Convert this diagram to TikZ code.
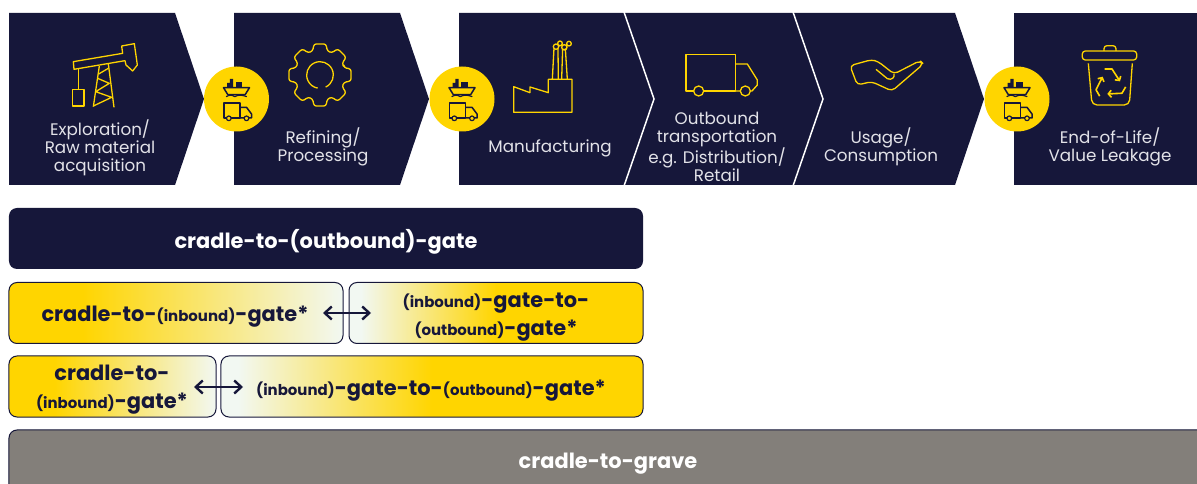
\documentclass[tikz,border=0pt]{standalone}
\usepackage{fontspec}
\setmainfont{Poppins}
\usetikzlibrary{arrows.meta}
\definecolor{navy}{HTML}{16173A}
\definecolor{gold}{HTML}{FFD500}
\definecolor{paper}{HTML}{F2F8F2}
\definecolor{stone}{HTML}{837F7A}
\definecolor{pale}{HTML}{E2E2E8}
\pgfdeclarehorizontalshading{goldfade}{100bp}{color(0bp)=(gold); color(36bp)=(gold); color(75bp)=(paper); color(100bp)=(paper)}
\pgfdeclarehorizontalshading{goldfadeB}{100bp}{color(0bp)=(gold); color(50bp)=(gold); color(73bp)=(paper); color(100bp)=(paper)}
\newcommand{\inb}[1]{{\fontsize{15}{15}\selectfont #1}}
\tikzset{shiptruck/.pic={
  \begin{scope}[scale=1/3,navy,line width=1.2bp,line join=round]
    \draw[line width=1.5bp] (-39,-34) -- (39,-34) -- (26,-13) -- (-26,-13) -- cycle;
    \fill (-28,-34) -- (-28,-48) -- (-20,-48) -- (-20,-60) -- (-10,-60) -- (-10,-34) -- cycle;
    \fill (-2,-52) rectangle (17,-36);
    \draw (-31,-7) .. controls (-20,-13) and (-15,-13) .. (-5,-7) .. controls (5,-13) and (15,-13) .. (31,-7);
    \draw[line width=1.5bp] (-37,12) -- (10,12) -- (10,57) -- (-37,57) -- cycle;
    \draw[line width=1.5bp] (10,25) -- (30,25) -- (45,45) -- (45,57) -- (10,57);
    \draw[fill=gold] (-23,58) circle (7);
    \draw[fill=gold] (30,58) circle (7);
  \end{scope}}}
\begin{document}
\begin{tikzpicture}[x=1bp,y=-1bp]
  \tikzstyle{every node}=[inner sep=0pt]
  \tikzstyle{step text}=[text=pale,align=center,font=\fontsize{16.8}{18.3}\selectfont]
  \tikzstyle{band}=[rounded corners=8bp,minimum height=61bp,line width=1bp]
  \tikzstyle{band text}=[align=center,text=navy,font=\fontsize{21}{28}\bfseries\selectfont]
  \tikzstyle{hub}=[circle,fill=gold,minimum size=65bp]
  \tikzstyle{icon}=[gold,line width=1.3bp,line join=round,scale=1/3]
  \tikzstyle{swap}=[{Straight Barb[length=7bp,width=13bp]}-{Straight Barb[length=7bp,width=13bp]},navy,line width=2.4bp]
  \useasboundingbox (0,0) rectangle (1197,484);
  \clip (0,0) rectangle (1197,484);

  \fill[navy] (9,13) -- (175,13) -- (204,99) -- (175,185) -- (9,185) -- cycle;
  \fill[navy] (234,13) -- (400,13) -- (429,99) -- (400,185) -- (234,185) -- cycle;
  \fill[navy] (459,13) -- (955,13) -- (984,99) -- (955,185) -- (459,185) -- cycle;
  \fill[navy] (1014,13) rectangle (1197,185);
  \draw[white,line width=1.5bp] (624,12) -- (654,99) -- (624,186);
  \draw[white,line width=1.5bp] (793,12) -- (823,99) -- (793,186);

  \begin{scope}[icon]
    \draw (220,185) -- (368,160) -- (365,138) -- (403,131) -- (412,195) -- (398,213) -- (378,195) -- (375,182) -- (222,208) -- cycle;
    \draw (235,208) -- (235,268);
    \draw (218,268) rectangle (252,318);
    \draw (298,198) -- (280,320);
    \draw (325,192) -- (342,322);
    \draw (296,222) -- (325,205) (293,235) -- (328,250) -- (287,275) -- (335,292) -- (280,318);
  \end{scope}

  \begin{scope}[icon,shift={(960,225)}]
    \draw[rounded corners=2.5bp] (-17:75) \foreach \a in {0,45,...,315} {
      -- (\a-17:75) -- (\a-11:95) -- (\a+11:95) -- (\a+17:75)} -- cycle;
    \draw (65:40) arc (65:-260:40);
  \end{scope}

  \begin{scope}[icon,shift={(1260,0)}]
    \draw (281,260) -- (281,337) -- (456,337) -- (456,238) -- (385,238) -- (385,278) -- (330,261) -- (330,278) -- cycle;
    \draw (397,238) -- (402,145) (415,238) -- (414,145) (425,238) -- (428,145) (442,238) -- (436,145);
    \draw (408,140) circle (8) (420,130) circle (7) (433,142) circle (8) (447,131) circle (7);
    \draw (798,164) rectangle (946,273);
    \draw (946,192) -- (982,192) -- (1012,240) -- (1012,255) -- (996,273) -- (946,273);
    \draw[fill=navy] (836,273) circle (15);
    \draw[fill=navy] (976,273) circle (15);
  \end{scope}

  \begin{scope}[icon,shift={(2400,0)}]
    \draw[rounded corners=4bp] (150,197) -- (215,179) -- (235,185) -- (282,222) -- (360,182) -- (370,192) -- (276,273) -- (215,245) -- (172,255) -- cycle;
    \draw (228,208) -- (262,236) .. controls (275,242) and (285,232) .. (282,222);
    \draw[rounded corners=3bp] (847,180) -- (847,153) -- (1010,153) -- (1010,180) -- cycle;
    \draw[rounded corners=3bp] (912,153) -- (912,137) -- (948,137) -- (948,153);
    \draw[rounded corners=5bp] (865,190) -- (876,315) -- (988,315) -- (997,190);
    \foreach \a in {0,120,240} {
      \draw[shift={(930,252)},rotate=\a,line width=1.6bp,-{Straight Barb[length=3bp,width=7bp]}] (-16,-45) -- (6,-45) -- (30,-8);
    }
  \end{scope}

  \node[hub] (hubA) at (236.5,99) {};
  \node[hub] (hubB) at (462,99) {};
  \node[hub] (hubC) at (1017,99) {};
  \pic at (hubA) {shiptruck};
  \pic at (hubB) {shiptruck};
  \pic at (hubC) {shiptruck};

  \node[step text] (explore) at (100,148) {Exploration/\\Raw material\\acquisition};
  \node[step text] (refine) at (323,147) {Refining/\\Processing};
  \node[step text] (make) at (550,148) {Manufacturing};
  \node[step text] (ship) at (717,147) {Outbound\\transportation\\e.g. Distribution/\\Retail};
  \node[step text] (use) at (881,147) {Usage/\\Consumption};
  \node[step text] (end) at (1110,147) {End-of-Life/\\Value Leakage};

  \node[band,fill=navy,minimum width=634bp] (outbound) at (326,238.5) {};
  \node[band text,text=white] (outboundText) at (326,241.5) {cradle-to-(outbound)-gate};

  \node[band,draw=navy,shading=goldfade,minimum width=334bp] (upA) at (176,313) {};
  \node[band,draw=navy,shading=goldfadeB,shading angle=180,minimum width=294bp] (downA) at (496,313) {};
  \node[band,draw=navy,shading=goldfade,minimum width=207bp] (upB) at (112.5,386.5) {};
  \node[band,draw=navy,shading=goldfadeB,shading angle=180,minimum width=422bp] (downB) at (432,386.5) {};
  \node[band,fill=stone,draw=navy,minimum width=1210bp,minimum height=70bp] (grave) at (614,465) {};

  \node[band text] (upAText) at (175,317) {cradle-to-\inb{(inbound)}-gate*};
  \node[band text] (downAText) at (496,317) {\inb{(inbound)}-gate-to-\\\inb{(outbound)}-gate*};
  \node[band text] (upBText) at (112,390) {cradle-to-\\\inb{(inbound)}-gate*};
  \node[band text] (downBText) at (431,391) {\inb{(inbound)}-gate-to-\inb{(outbound)}-gate*};
  \node[band text,text=white] (graveText) at (608,464) {cradle-to-grave};

  \coordinate (swapAl) at (323,313);
  \coordinate (swapAr) at (371,313);
  \coordinate (swapBl) at (194,387);
  \coordinate (swapBr) at (243,387);
  \draw[swap] (swapAl) -- (swapAr);
  \draw[swap] (swapBl) -- (swapBr);
\end{tikzpicture}
\end{document}
